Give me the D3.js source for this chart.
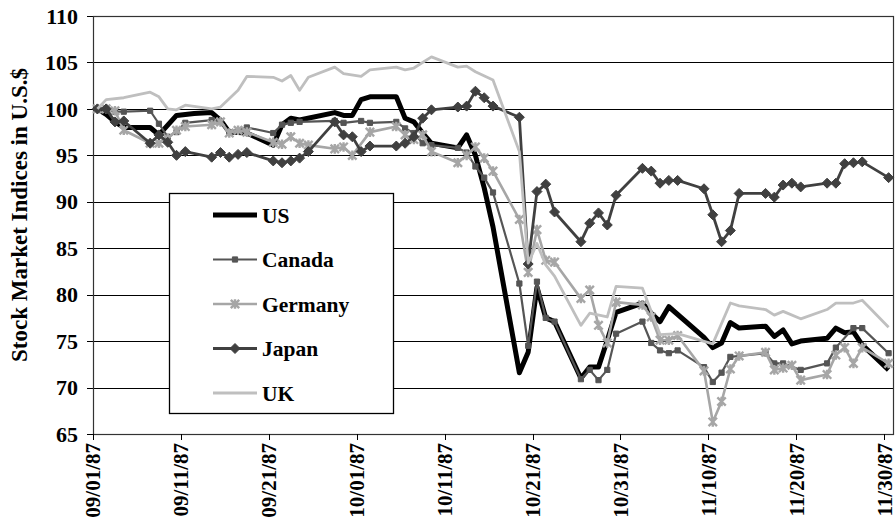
<!DOCTYPE html>
<html>
<head>
<meta charset="utf-8">
<script src="https://cdn.jsdelivr.net/npm/d3@7"></script>
<style>
  body { margin: 0; background: #fff; }
  svg text { font-family: "Liberation Serif", "Times New Roman", serif; font-weight: bold; }
</style>
</head>
<body>
<svg id="chart" width="896" height="528"></svg>
<script>
// values, [date (1987), index]
const usData = [
  ['9/1', 100], ['9/2', 99.4], ['9/3', 98.6], ['9/4', 98], ['9/7', 98], ['9/8', 97.2],
  ['9/10', 99.3], ['9/12', 99.5], ['9/14', 99.6], ['9/15', 98.8], ['9/16', 97.5], ['9/18', 97.4],
  ['9/21', 96.1], ['9/22', 98.3], ['9/23', 99.0], ['9/24', 98.8], ['9/28', 99.6], ['9/29', 99.3],
  ['9/30', 99.3], ['10/1', 101], ['10/2', 101.3], ['10/5', 101.3], ['10/6', 99.0], ['10/7', 98.6],
  ['10/8', 97.4], ['10/9', 96.3], ['10/12', 95.8], ['10/13', 97.2], ['10/14', 95.0], ['10/15', 91.5],
  ['10/16', 87.3], ['10/19', 71.6], ['10/20', 73.8], ['10/21', 80.8], ['10/22', 77.5], ['10/23', 77.1],
  ['10/26', 71.0], ['10/27', 72.2], ['10/28', 72.2], ['10/29', 75.1], ['10/30', 78.1], ['11/2', 79.1],
  ['11/3', 78.0], ['11/4', 77.1], ['11/5', 78.7], ['11/9', 75.4], ['11/10', 74.3], ['11/11', 74.8],
  ['11/12', 77.0], ['11/13', 76.4], ['11/16', 76.6], ['11/17', 75.5], ['11/18', 76.2], ['11/19', 74.7],
  ['11/20', 75.0], ['11/23', 75.3], ['11/24', 76.4], ['11/25', 75.9], ['11/26', 76.0], ['11/27', 74.6],
  ['11/30', 71.9]
];

const canadaData = [
  ['9/1', 100], ['9/2', 100], ['9/3', 99.7], ['9/4', 99.7], ['9/7', 99.8], ['9/8', 98.4],
  ['9/9', 97], ['9/10', 97.5], ['9/11', 98.5], ['9/14', 98.8], ['9/15', 98.6], ['9/16', 97.5],
  ['9/18', 98], ['9/21', 97.4], ['9/22', 98.3], ['9/23', 98.5], ['9/24', 98.6], ['9/28', 98.7],
  ['9/29', 98.5], ['10/1', 98.7], ['10/2', 98.5], ['10/5', 98.6], ['10/6', 97.9], ['10/7', 97.4],
  ['10/8', 96.3], ['10/9', 96.1], ['10/12', 95.8], ['10/13', 95.3], ['10/14', 93.8], ['10/15', 92.6],
  ['10/16', 91.0], ['10/19', 81.2], ['10/20', 74.5], ['10/21', 81.4], ['10/22', 77.5], ['10/23', 77.1],
  ['10/26', 70.9], ['10/27', 71.9], ['10/28', 70.8], ['10/29', 71.9], ['10/30', 75.8], ['11/2', 77.1],
  ['11/3', 74.8], ['11/4', 74.0], ['11/5', 73.7], ['11/6', 74.0], ['11/9', 72.2], ['11/10', 70.6],
  ['11/11', 71.6], ['11/12', 73.3], ['11/16', 73.7], ['11/17', 72.6], ['11/18', 72.6], ['11/20', 71.9],
  ['11/23', 72.6], ['11/24', 74.3], ['11/26', 76.4], ['11/27', 76.4], ['11/30', 73.7]
];

const germanyData = [
  ['9/1', 100], ['9/2', 100], ['9/3', 99.8], ['9/4', 97.7], ['9/7', 96.3], ['9/8', 96.3],
  ['9/9', 96.8], ['9/10', 97.7], ['9/11', 98.1], ['9/14', 98.3], ['9/15', 98.6], ['9/16', 97.4],
  ['9/17', 97.7], ['9/18', 97.5], ['9/21', 96.4], ['9/22', 96.2], ['9/23', 97.0], ['9/24', 96.3],
  ['9/25', 96.1], ['9/28', 95.7], ['9/29', 95.9], ['9/30', 95.0], ['10/2', 97.5], ['10/5', 98.1],
  ['10/6', 97.2], ['10/7', 96.7], ['10/8', 97.2], ['10/9', 95.4], ['10/12', 94.2], ['10/13', 95.0],
  ['10/14', 95.9], ['10/15', 94.7], ['10/16', 93.3], ['10/19', 88.1], ['10/20', 82.4], ['10/21', 87.0],
  ['10/22', 83.7], ['10/23', 83.5], ['10/26', 79.6], ['10/27', 80.5], ['10/28', 76.7], ['10/29', 74.8],
  ['10/30', 79.2], ['11/2', 78.9], ['11/3', 77.6], ['11/4', 75.1], ['11/5', 75.1], ['11/6', 75.6],
  ['11/9', 71.8], ['11/10', 66.3], ['11/11', 68.5], ['11/12', 72.0], ['11/13', 73.4], ['11/16', 73.8],
  ['11/17', 71.9], ['11/18', 72.1], ['11/19', 72.4], ['11/20', 70.8], ['11/23', 71.4], ['11/24', 73.5],
  ['11/25', 74.3], ['11/26', 72.6], ['11/27', 74.3], ['11/30', 72.6]
];

const japanData = [
  ['9/1', 100], ['9/2', 100], ['9/3', 98.6], ['9/4', 98.7], ['9/7', 96.3], ['9/8', 97.2],
  ['9/9', 96.4], ['9/10', 95.0], ['9/11', 95.4], ['9/14', 94.8], ['9/15', 95.3], ['9/16', 94.8],
  ['9/17', 95.1], ['9/18', 95.3], ['9/21', 94.4], ['9/22', 94.2], ['9/23', 94.4], ['9/24', 94.7],
  ['9/25', 95.4], ['9/28', 98.6], ['9/29', 97.2], ['9/30', 97.0], ['10/1', 95.4], ['10/2', 96.0],
  ['10/5', 96.0], ['10/6', 96.3], ['10/7', 97.0], ['10/8', 99.0], ['10/9', 99.9], ['10/12', 100.2],
  ['10/13', 100.3], ['10/14', 101.9], ['10/15', 101.2], ['10/16', 100.3], ['10/19', 99.1], ['10/20', 83.3],
  ['10/21', 91.1], ['10/22', 91.9], ['10/23', 88.9], ['10/26', 85.7], ['10/27', 87.7], ['10/28', 88.8],
  ['10/29', 87.5], ['10/30', 90.7], ['11/2', 93.6], ['11/3', 93.3], ['11/4', 92.0], ['11/5', 92.3],
  ['11/6', 92.3], ['11/9', 91.4], ['11/10', 88.6], ['11/11', 85.7], ['11/12', 86.9], ['11/13', 90.9],
  ['11/16', 90.9], ['11/17', 90.5], ['11/18', 91.8], ['11/19', 92.0], ['11/20', 91.6], ['11/23', 92.0],
  ['11/24', 92.0], ['11/25', 94.1], ['11/26', 94.2], ['11/27', 94.3], ['11/30', 92.6]
];

const ukData = [
  ['9/1', 100], ['9/2', 101], ['9/4', 101.2], ['9/7', 101.8], ['9/8', 101.3], ['9/9', 100],
  ['9/10', 99.9], ['9/11', 100.4], ['9/14', 100], ['9/15', 100.2], ['9/17', 102], ['9/18', 103.5],
  ['9/21', 103.4], ['9/22', 103], ['9/23', 103.6], ['9/24', 102], ['9/25', 103.4], ['9/28', 104.5],
  ['9/29', 103.8], ['10/1', 103.5], ['10/2', 104.2], ['10/5', 104.5], ['10/6', 104.2], ['10/7', 104.4],
  ['10/9', 105.6], ['10/12', 104.5], ['10/13', 104.6], ['10/14', 104], ['10/16', 103.1], ['10/19', 95.4],
  ['10/20', 83.4], ['10/21', 85.5], ['10/22', 83.2], ['10/23', 82], ['10/26', 76.7], ['10/27', 78],
  ['10/29', 77.6], ['10/30', 80.9], ['11/2', 80.7], ['11/4', 75.7], ['11/6', 75.8], ['11/10', 74.7],
  ['11/12', 79.1], ['11/13', 78.8], ['11/16', 78.4], ['11/17', 77.8], ['11/18', 78.2], ['11/20', 77.4],
  ['11/23', 78.4], ['11/24', 79.1], ['11/26', 79.1], ['11/27', 79.4], ['11/30', 76.5]
];

const seriesNames = ['US', 'Canada', 'Germany', 'Japan', 'UK'];
const xTickLabels = ['09/01/87', '09/11/87', '09/21/87', '10/01/87', '10/11/87',
  '10/21/87', '10/31/87', '11/10/87', '11/20/87', '11/30/87'];
const yTicks = [65, 70, 75, 80, 85, 90, 95, 100, 105, 110];
const yTitle = 'Stock Market Indices in U.S.$';

const styles = {
  US: { color: '#000000', width: 5, marker: null },
  Canada: { color: '#555555', width: 2.2, marker: 'square' },
  Germany: { color: '#a6a6a6', width: 2.6, marker: 'star' },
  Japan: { color: '#404040', width: 2.8, marker: 'diamond' },
  UK: { color: '#bfbfbf', width: 2.8, marker: null }
};

const parseDay = d3.timeParse('%m/%d/%Y');
function toPoint(p) {
  // Excel date axis: each day centred between tick marks
  return { date: d3.timeHour.offset(parseDay(p[0] + '/1987'), 12), value: p[1] };
}

const series = [usData, canadaData, germanyData, japanData, ukData].map((arr, i) => ({
  name: seriesNames[i],
  values: arr.map(toPoint)
}));

const svg = d3.select('#chart');
const plotLeft = 93, plotRight = 893, plotTop = 16, plotBottom = 434;

const x = d3.scaleTime()
  .domain([parseDay('09/01/1987'), parseDay('12/01/1987')])
  .range([plotLeft, plotRight]);

const y = d3.scaleLinear().domain([65, 110]).range([plotBottom, plotTop]);

const crisp = v => Math.round(v) + 0.5;

// gridlines
svg.append('g').selectAll('line')
  .data(yTicks)
  .join('line')
  .attr('x1', plotLeft - 6)
  .attr('x2', plotRight)
  .attr('y1', d => crisp(y(d)))
  .attr('y2', d => crisp(y(d)))
  .attr('stroke', '#000')
  .attr('stroke-width', 1);

// plot area border
svg.append('rect')
  .attr('x', crisp(plotLeft))
  .attr('y', crisp(plotTop))
  .attr('width', plotRight - plotLeft)
  .attr('height', plotBottom - plotTop)
  .attr('fill', 'none')
  .attr('stroke', '#333')
  .attr('stroke-width', 1.2);

// y labels
svg.append('g').selectAll('text')
  .data(yTicks)
  .join('text')
  .attr('x', 78)
  .attr('y', d => y(d))
  .attr('dy', '0.35em')
  .attr('text-anchor', 'end')
  .attr('font-size', '22px')
  .text(d => d);

// x axis ticks and labels
const xTickDates = xTickLabels.map(s => d3.timeParse('%m/%d/%y')(s));
const xAxis = svg.append('g');
xAxis.selectAll('line')
  .data(xTickDates)
  .join('line')
  .attr('x1', d => crisp(x(d)))
  .attr('x2', d => crisp(x(d)))
  .attr('y1', plotBottom)
  .attr('y2', plotBottom + 6)
  .attr('stroke', '#000')
  .attr('stroke-width', 1);

xAxis.selectAll('text')
  .data(xTickDates)
  .join('text')
  .attr('transform', d => 'translate(' + x(d) + ',' + (plotBottom + 9) + ') rotate(-90)')
  .attr('dy', '0.35em')
  .attr('text-anchor', 'end')
  .attr('font-size', '21px')
  .text((d, i) => xTickLabels[i]);

// y title
svg.append('text')
  .attr('transform', 'translate(19, 215) rotate(-90)')
  .attr('dy', '0.35em')
  .attr('text-anchor', 'middle')
  .attr('font-size', '23px')
  .text(yTitle);

// markers
function markerPath(type) {
  if (type == 'square') return 'M-2.6,-2.6H2.6V2.6H-2.6Z';
  if (type == 'diamond') return 'M0,-5L5,0L0,5L-5,0Z';
  if (type == 'star') return 'M-4.2,-4.2L4.2,4.2M-4.2,4.2L4.2,-4.2M0,-4.8V4.8';
  return null;
}

function drawMarkers(g, type, color, points) {
  const sel = g.selectAll('path.marker')
    .data(points)
    .join('path')
    .attr('class', 'marker')
    .attr('transform', d => 'translate(' + d[0] + ',' + d[1] + ')')
    .attr('d', markerPath(type));
  if (type == 'star') {
    sel.attr('fill', 'none').attr('stroke', color).attr('stroke-width', 2.4);
  } else {
    sel.attr('fill', color).attr('stroke', color).attr('stroke-width', 1);
  }
}

const line = d3.line()
  .x(d => x(d.date))
  .y(d => y(d.value));

const plot = svg.append('g');
series.forEach(s => {
  const st = styles[s.name];
  const g = plot.append('g');
  g.append('path')
    .datum(s.values)
    .attr('fill', 'none')
    .attr('stroke', st.color)
    .attr('stroke-width', st.width)
    .attr('stroke-linejoin', 'round')
    .attr('d', line);
  if (st.marker) {
    drawMarkers(g, st.marker, st.color, s.values.map(d => [x(d.date), y(d.value)]));
  }
});

// legend
const legend = svg.append('g');
legend.append('rect')
  .attr('x', 169.5)
  .attr('y', 193.5)
  .attr('width', 224)
  .attr('height', 220)
  .attr('fill', '#fff')
  .attr('stroke', '#000')
  .attr('stroke-width', 1.3);

const legendY = d3.scalePoint().domain(seriesNames).range([215, 393]);

seriesNames.forEach(name => {
  const st = styles[name];
  const ly = legendY(name);
  const g = legend.append('g');
  g.append('line')
    .attr('x1', 213)
    .attr('x2', 257)
    .attr('y1', ly)
    .attr('y2', ly)
    .attr('stroke', st.color)
    .attr('stroke-width', st.width);
  if (st.marker) drawMarkers(g, st.marker, st.color, [[235, ly]]);
  g.append('text')
    .attr('x', 262)
    .attr('y', ly)
    .attr('dy', '0.35em')
    .attr('font-size', '21.5px')
    .text(name);
});
</script>
</body>
</html>
